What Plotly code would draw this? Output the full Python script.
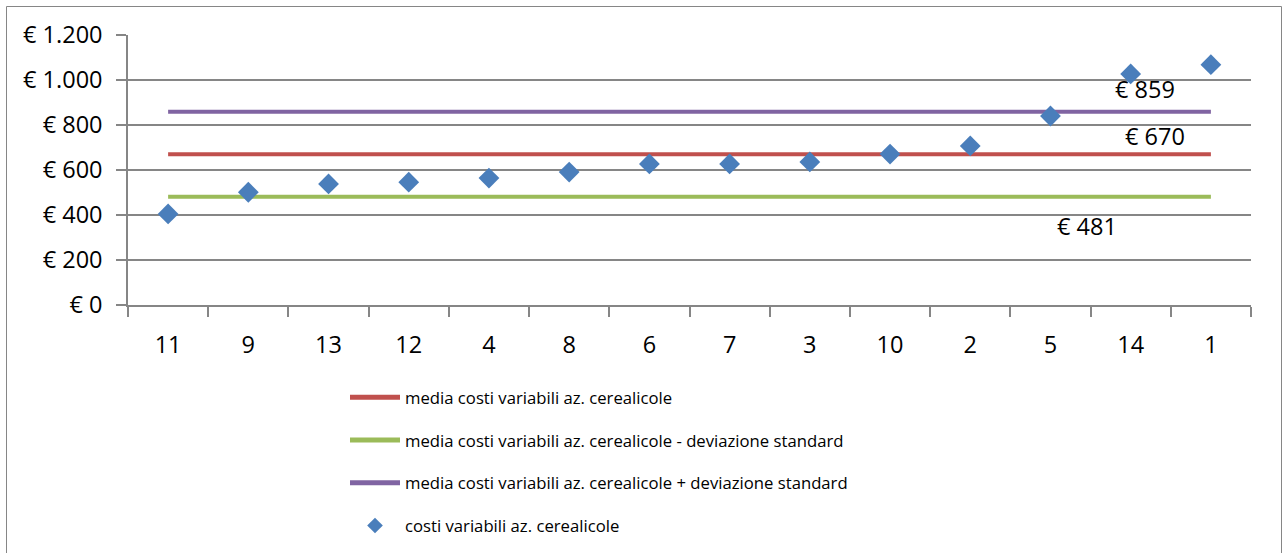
import plotly.graph_objects as go

# Aziende cerealicole, ordinate per costo variabile crescente
aziende = ["11", "9", "13", "12", "4", "8", "6", "7", "3", "10", "2", "5", "14", "1"]
costi_variabili = [405, 501, 538, 546, 564, 591, 627, 627, 636, 671, 707, 840, 1027, 1068]

media = 670
media_meno_dev = 481
media_piu_dev = 859

y_tick_values = [0, 200, 400, 600, 800, 1000, 1200]

nome_media = "media costi variabili az. cerealicole"
nome_meno = "media costi variabili az. cerealicole - deviazione standard"
nome_piu = "media costi variabili az. cerealicole + deviazione standard"
nome_punti = "costi variabili az. cerealicole"

FONT = "Open Sans"
GRID = "#868686"

# plot-area geometry in pixels
W, H = 1286, 553
L, R, T, B = 128, 35, 35, 248
pw, ph = W - L - R, H - T - B


def px_x(p):
    return (p - L) / pw


def px_y(p):
    return (H - B - p) / ph


def euro(v):
    return "€ " + f"{v:,d}".replace(",", ".")


fig = go.Figure()

for nome, valore, colore in [
    (nome_media, media, "#C0504D"),
    (nome_meno, media_meno_dev, "#9BBB59"),
    (nome_piu, media_piu_dev, "#8064A2"),
]:
    fig.add_trace(go.Scatter(
        x=aziende, y=[valore] * len(aziende), mode="lines", name=nome,
        line=dict(color=colore, width=4), legendgroup=nome,
        hoverinfo="skip",
    ))

fig.add_trace(go.Scatter(
    x=aziende, y=costi_variabili, mode="markers", name=nome_punti,
    marker=dict(symbol="diamond", size=16, color="#4A7EBB",
                line=dict(width=0)),
    legendgroup=nome_punti,
))

# etichette dei valori delle linee, vicino all'ultima azienda
ultimo = len(aziende) - 1
for valore, dx, dy in [(media_piu_dev, -66, 23), (media, -56, 18), (media_meno_dev, -124, -29)]:
    fig.add_annotation(
        x=ultimo, y=valore, text=euro(valore), showarrow=False,
        xshift=dx, yshift=dy, font=dict(family=FONT, size=23.5, color="black"),
    )

# cornice esterna del grafico
fig.add_shape(
    type="rect", xref="paper", yref="paper",
    x0=px_x(6.5), x1=px_x(1281.5), y0=px_y(580), y1=px_y(6.5),
    line=dict(color=GRID, width=1), fillcolor="rgba(0,0,0,0)", layer="below",
)

fig.update_layout(
    width=W, height=H,
    margin=dict(l=L, r=R, t=T, b=B, pad=0, autoexpand=False),
    paper_bgcolor="white", plot_bgcolor="white",
    font=dict(family=FONT, color="black"),
    showlegend=True,
    legend=dict(
        x=px_x(345), xanchor="left", y=px_y(380), yanchor="top",
        font=dict(family=FONT, size=16.7, color="black"),
        tracegroupgap=18, itemwidth=50, itemsizing="constant",
        bgcolor="rgba(0,0,0,0)",
    ),
    xaxis=dict(
        type="category", categoryorder="array", categoryarray=aziende,
        range=[-0.5, len(aziende) - 0.5], automargin=False,
        showline=True, linecolor=GRID, linewidth=1.5,
        showgrid=False, zeroline=False,
        ticks="outside", tickson="boundaries", ticklen=10, tickcolor=GRID, tickwidth=1.5,
        tickfont=dict(family=FONT, size=23.5, color="black"),
        ticklabelstandoff=18,
    ),
    yaxis=dict(
        range=[0, 1200], tickmode="array", tickvals=y_tick_values,
        ticktext=[euro(v) for v in y_tick_values], automargin=False,
        showline=True, linecolor=GRID, linewidth=1.5,
        showgrid=True, gridcolor=GRID, gridwidth=1.5, zeroline=False,
        ticks="outside", ticklen=10, tickcolor=GRID, tickwidth=1.5,
        tickfont=dict(family=FONT, size=23.5, color="black"),
        ticklabelstandoff=9,
    ),
)

fig.write_html("out.html")
